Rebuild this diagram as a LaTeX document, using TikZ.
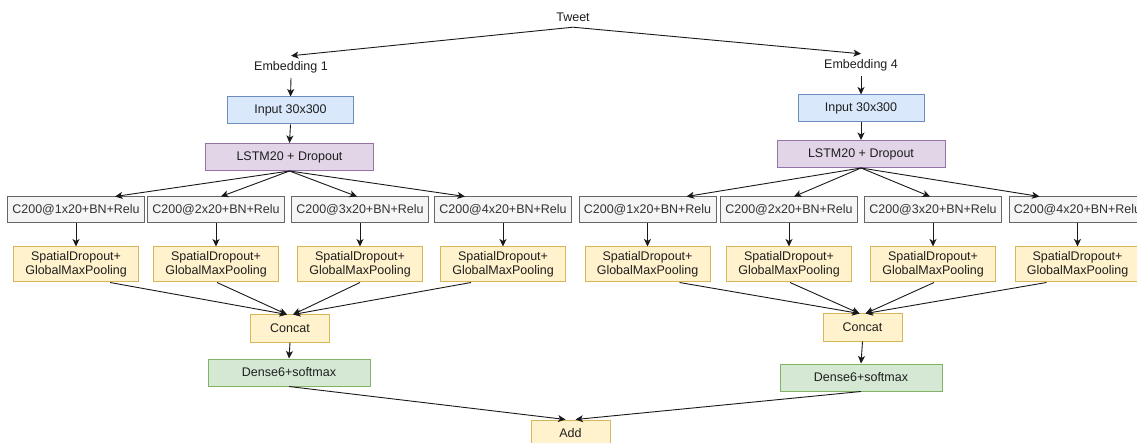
\documentclass[tikz,border=0pt]{standalone}
\usepackage{fontspec}
\setmainfont{Liberation Sans}
\usetikzlibrary{arrows.meta,calc}

\definecolor{bluef}{HTML}{DAE8FC}\definecolor{blued}{HTML}{6C8EBF}
\definecolor{purpf}{HTML}{E1D5E7}\definecolor{purpd}{HTML}{9673A6}
\definecolor{grayf}{HTML}{F5F5F5}\definecolor{grayd}{HTML}{666666}
\definecolor{yelf}{HTML}{FFF2CC}\definecolor{yeld}{HTML}{D6B656}
\definecolor{grnf}{HTML}{D5E8D4}\definecolor{grnd}{HTML}{82B366}
\definecolor{txtc}{HTML}{1F1F1F}\definecolor{txtg}{HTML}{333333}

\newcommand\dfont{\fontsize{12.5pt}{14.5pt}\selectfont}

\tikzset{
  lbl/.style={inner sep=0pt, font=\dfont, text=txtc},
  box/.style={draw, line width=1pt, inner sep=0pt, font=\dfont, text=txtc, align=center},
  inbox/.style={box, fill=bluef, draw=blued, minimum width=126pt, minimum height=27pt},
  lstmbox/.style={box, fill=purpf, draw=purpd, minimum width=168pt, minimum height=27pt},
  convbox/.style={box, fill=grayf, draw=grayd, text=txtg, minimum width=137pt, minimum height=26pt},
  poolbox/.style={box, fill=yelf, draw=yeld, minimum width=125pt, minimum height=35pt},
  catbox/.style={box, fill=yelf, draw=yeld, minimum width=79pt, minimum height=27pt},
  densebox/.style={box, fill=grnf, draw=grnd, minimum width=162pt, minimum height=27pt},
  arr/.style={-{Stealth[length=7.5pt,width=7pt,inset=2pt]}, line width=0.9pt, draw=black!90}
}

\begin{document}
\begin{tikzpicture}[x=1pt,y=-1pt]
\clip (0,0) rectangle (1137,443);
\fill[white] (0,0) rectangle (1137,443);

% input text and the two embeddings
\node[lbl, minimum height=20pt] (tweet) at (573,17) {Tweet};
\node[lbl, minimum height=22pt] (emb1) at (291,67) {Embedding 1};
\node[lbl, minimum height=22pt] (emb4) at (861,65) {Embedding 4};

\draw[arr] (tweet.south) -- (emb1.north);
\draw[arr] (tweet.south) -- (emb4.north);

% left branch
\node[inbox] (in1) at (290.5,110.5) {Input 30x300};
\node[lstmbox] (lstm1) at (289.5,157) {LSTM20 + Dropout};
\draw[arr] (emb1.south) -- (in1.north);
\draw[arr] (in1.south) -- (lstm1.north);

\foreach \i/\x in {1/76,2/216,3/360,4/503}{
  \node[convbox] (ca\i) at (\x,210) {C200@\i x20+BN+Relu};
  \node[poolbox] (sa\i) at (\x,264.5) {SpatialDropout+\\GlobalMaxPooling};
  \draw[arr] (ca\i.south) -- (sa\i.north);
}
\draw[arr] (lstm1.south) -- ([xshift=39pt]ca1.north);
\draw[arr] (lstm1.south) -- ([xshift=5pt]ca2.north);
\draw[arr] (lstm1.south) -- ([xshift=-3pt]ca3.north);
\draw[arr] (lstm1.south) -- ([xshift=-38pt]ca4.north);

\node[catbox] (catA) at (290,328.5) {Concat};
\draw[arr] ([xshift=34pt]sa1.south) -- ([xshift=-3pt]catA.north);
\draw[arr] ([xshift=1pt]sa2.south) -- ([xshift=-3pt]catA.north);
\draw[arr] (sa3.south) -- ([xshift=3pt]catA.north);
\draw[arr] ([xshift=-32pt]sa4.south) -- ([xshift=3pt]catA.north);

\node[densebox] (denA) at (289,372.5) {Dense6+softmax};
\draw[arr] (catA.south) -- (denA.north);

% right branch
\node[inbox] (in4) at (861,108.5) {Input 30x300};
\node[lstmbox] (lstm4) at (861,154) {LSTM20 + Dropout};
\draw[arr] (emb4.south) -- (in4.north);
\draw[arr] (in4.south) -- (lstm4.north);

\foreach \i/\x in {1/647.5,2/789,3/933,4/1077.5}{
  \node[convbox] (cb\i) at (\x,210) {C200@\i x20+BN+Relu};
  \node[poolbox] (sb\i) at (\x,264.5) {SpatialDropout+\\GlobalMaxPooling};
  \draw[arr] (cb\i.south) -- (sb\i.north);
}
\draw[arr] (lstm4.south) -- ([xshift=39pt]cb1.north);
\draw[arr] (lstm4.south) -- ([xshift=5pt]cb2.north);
\draw[arr] (lstm4.south) -- ([xshift=-3pt]cb3.north);
\draw[arr] (lstm4.south) -- ([xshift=-38pt]cb4.north);

\node[catbox] (catB) at (862.5,327.5) {Concat};
\draw[arr] ([xshift=32pt]sb1.south) -- ([xshift=-3pt]catB.north);
\draw[arr] ([xshift=1pt]sb2.south) -- ([xshift=-3pt]catB.north);
\draw[arr] ([xshift=1pt]sb3.south) -- ([xshift=3pt]catB.north);
\draw[arr] ([xshift=-31pt]sb4.south) -- ([xshift=3pt]catB.north);

\node[densebox] (denB) at (861,377.5) {Dense6+softmax};
\draw[arr] (catB.south) -- (denB.north);

% merge of both branches
\node[catbox] (add) at (570.5,433.5) {Add};
\draw[arr] (denA.south) -- ([xshift=-5pt]add.north);
\draw[arr] (denB.south) -- ([xshift=5pt]add.north);
\end{tikzpicture}
\end{document}
